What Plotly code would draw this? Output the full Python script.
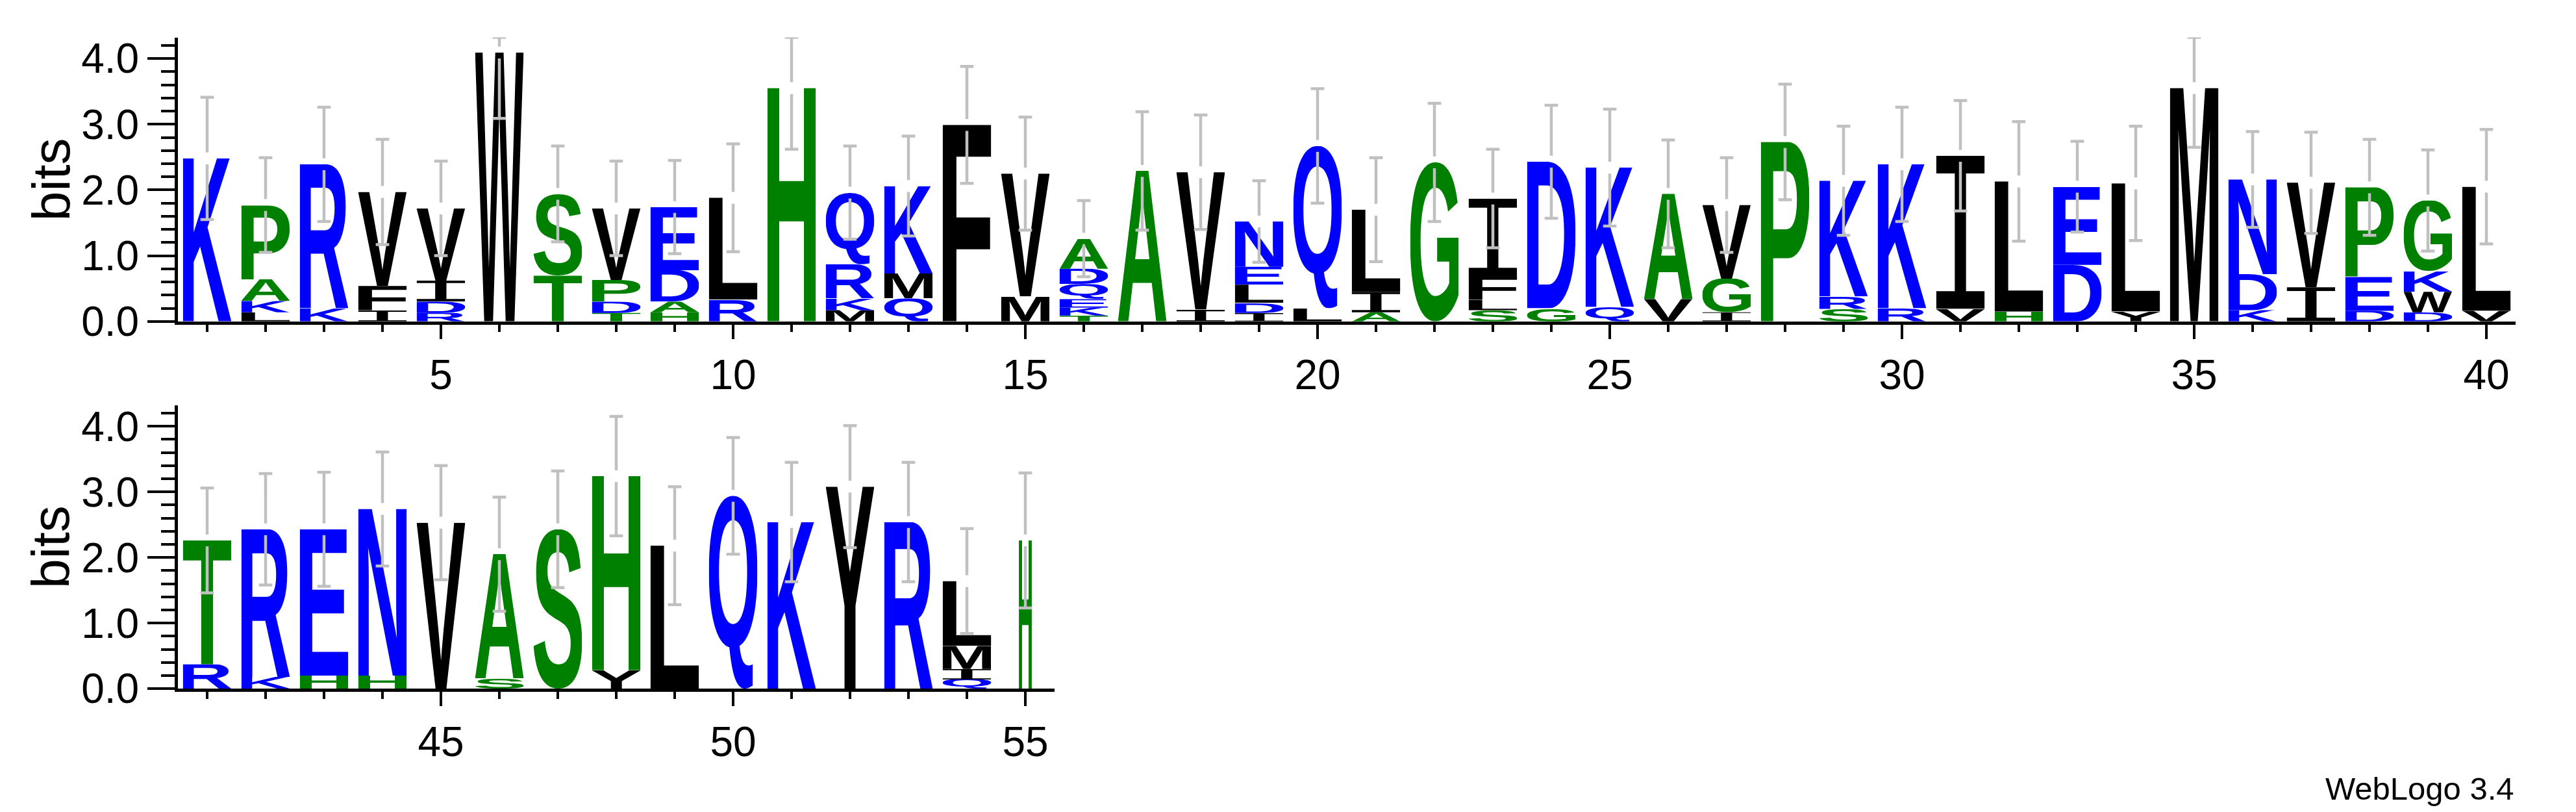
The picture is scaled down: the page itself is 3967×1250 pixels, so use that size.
import base64
import glob
import struct

import plotly.graph_objects as go

positions = list(range(1, 56))

# letters of each stack, bottom -> top
stack_letters = [
    "K", "LKAP", "KR", "IFV", "RDIV", "W", "TS", "TDPV", "HADE", "RL",
    "H", "MKRQ", "QMK", "F", "MV", "TKEQDA", "A", "IV", "IDLEN", "LQ",
    "AIL", "G", "SLFI", "GD", "QK", "VA", "IGV", "P", "SRK", "RK",
    "VI", "HL", "DE", "YL", "M", "KDN", "IV", "DEP", "DWKG", "VL",
    "RT", "KR", "HE", "HN", "V", "SA", "S", "YH", "L", "Q",
    "K", "Y", "R", "QIML", "H",
]

# letter heights in bits, bottom -> top
stack_heights = [
    [2.48], [0.14, 0.17, 0.33, 1.13], [0.20, 2.19], [0.17, 0.37, 1.43],
    [0.13, 0.17, 0.32, 1.10], [4.09], [0.70, 1.24], [0.13, 0.17, 0.33, 1.09],
    [0.14, 0.16, 0.48, 0.96], [0.33, 1.55],
    [3.55], [0.17, 0.18, 0.52, 1.09], [0.35, 0.38, 1.33], [2.99], [0.38, 1.87],
    [0.09, 0.12, 0.13, 0.23, 0.23, 0.46], [2.29], [0.18, 2.09],
    [0.13, 0.15, 0.28, 0.27, 0.69], [0.20, 2.47],
    [0.14, 0.31, 1.25], [2.42], [0.17, 0.16, 0.35, 1.19], [0.20, 2.23],
    [0.22, 2.12], [0.34, 1.60], [0.14, 0.51, 1.12], [2.73], [0.19, 0.19, 1.76],
    [0.20, 2.19],
    [0.19, 2.33], [0.15, 1.98], [0.86, 1.19], [0.15, 1.95], [3.55],
    [0.17, 0.55, 1.44], [0.52, 1.59], [0.16, 0.52, 1.36], [0.14, 0.31, 0.31, 1.08],
    [0.16, 1.89],
    [0.37, 1.89], [0.18, 2.25], [0.20, 2.23], [0.20, 2.54], [2.53], [0.16, 1.89],
    [2.43], [0.28, 2.96], [2.18], [2.94],
    [2.54], [3.08], [2.54], [0.14, 0.16, 0.35, 0.99], [2.26],
]

# half-length of the error bar at each position (bits)
error_bits = [
    0.93, 0.72, 0.87, 0.80, 0.72, 1.00, 0.73, 0.72, 0.71, 0.82,
    0.93, 0.71, 0.76, 0.89, 0.86, 0.58, 0.90, 0.87, 0.62, 0.87,
    0.79, 0.90, 0.75, 0.86, 0.89, 0.82, 0.72, 0.88, 0.83, 0.87,
    0.84, 0.91, 0.69, 0.87, 0.90, 0.73, 0.77, 0.73, 0.77, 0.87,
    0.80, 0.85, 0.87, 0.87, 0.87, 0.87, 0.89, 0.91, 0.90, 0.89,
    0.91, 0.93, 0.91, 0.80, 1.03,
]

y_ticks = [0.0, 1.0, 2.0, 3.0, 4.0]
max_bits = 4.3219  # log2(20)

blue_letters = "KRDEQN"
green_letters = "PASTGH"
COLOR_BLUE = "#0000ff"
COLOR_GREEN = "#008000"
COLOR_BLACK = "#000000"

# ---------------- glyph bounding boxes ----------------
FALLBACK_BBOX = {
    "A": (0.0, 0.0, 0.722, 0.716), "C": (0.04, -0.012, 0.67, 0.728),
    "D": (0.073, 0.0, 0.67, 0.716), "E": (0.073, 0.0, 0.615, 0.716),
    "F": (0.073, 0.0, 0.56, 0.716), "G": (0.044, -0.012, 0.72, 0.728),
    "H": (0.073, 0.0, 0.65, 0.716), "K": (0.073, 0.0, 0.72, 0.716),
    "L": (0.076, 0.0, 0.58, 0.716), "M": (0.071, 0.0, 0.762, 0.716),
    "N": (0.073, 0.0, 0.648, 0.716), "P": (0.073, 0.0, 0.625, 0.716),
    "Q": (0.04, -0.06, 0.75, 0.728), "R": (0.073, 0.0, 0.72, 0.716),
    "S": (0.034, -0.012, 0.625, 0.728), "T": (0.02, 0.0, 0.59, 0.716),
    "V": (0.0, 0.0, 0.667, 0.716), "W": (0.005, 0.0, 0.94, 0.716),
    "Y": (0.0, 0.0, 0.667, 0.716), "I": (0.1, 0.0, 0.5, 0.66),
}


def parse_ttf_bboxes(fn, chars):
    data = open(fn, "rb").read()
    num_tables = struct.unpack(">H", data[4:6])[0]
    tables = {}
    for i in range(num_tables):
        tag, _cs, off, ln = struct.unpack(">4sIII", data[12 + 16 * i:28 + 16 * i])
        tables[tag.decode("latin1")] = (off, ln)
    ho = tables["head"][0]
    upm = struct.unpack(">H", data[ho + 18:ho + 20])[0]
    locfmt = struct.unpack(">h", data[ho + 50:ho + 52])[0]
    co = tables["cmap"][0]
    nsub = struct.unpack(">H", data[co + 2:co + 4])[0]
    sub = None
    for i in range(nsub):
        pid, _eid, off = struct.unpack(">HHI", data[co + 4 + 8 * i:co + 12 + 8 * i])
        fmt = struct.unpack(">H", data[co + off:co + off + 2])[0]
        if fmt == 4 and pid in (0, 3):
            sub = co + off
            break
    seg2 = struct.unpack(">H", data[sub + 6:sub + 8])[0]
    seg = seg2 // 2
    ends = struct.unpack(">%dH" % seg, data[sub + 14:sub + 14 + seg2])
    starts = struct.unpack(">%dH" % seg, data[sub + 16 + seg2:sub + 16 + 2 * seg2])
    deltas = struct.unpack(">%dh" % seg, data[sub + 16 + 2 * seg2:sub + 16 + 3 * seg2])
    rpos = sub + 16 + 3 * seg2
    roffs = struct.unpack(">%dH" % seg, data[rpos:rpos + seg2])

    def gid(ch):
        c = ord(ch)
        for i in range(seg):
            if starts[i] <= c <= ends[i]:
                if roffs[i] == 0:
                    return (c + deltas[i]) & 0xFFFF
                addr = rpos + 2 * i + roffs[i] + 2 * (c - starts[i])
                g = struct.unpack(">H", data[addr:addr + 2])[0]
                return (g + deltas[i]) & 0xFFFF if g else 0
        return 0

    lo = tables["loca"][0]
    gl = tables["glyf"][0]
    out = {}
    for ch in chars:
        g = gid(ch)
        if locfmt == 0:
            a = struct.unpack(">H", data[lo + 2 * g:lo + 2 * g + 2])[0] * 2
        else:
            a = struct.unpack(">I", data[lo + 4 * g:lo + 4 * g + 4])[0]
        _nc, xmin, ymin, xmax, ymax = struct.unpack(">hhhhh", data[gl + a:gl + a + 10])
        out[ch] = (xmin / upm, ymin / upm, xmax / upm, ymax / upm)
    return out


def find_bboxes(pattern, chars):
    for f in glob.glob("/usr/share/fonts/**/" + pattern, recursive=True) + \
            glob.glob("/usr/local/share/fonts/**/" + pattern, recursive=True):
        try:
            return parse_ttf_bboxes(f, chars)
        except Exception:
            pass
    return {}


all_chars = sorted(set("".join(stack_letters)))
sans_chars = [c for c in all_chars if c != "I"]
BBOX = dict(FALLBACK_BBOX)
BBOX.update(find_bboxes("LiberationSans-Bold.ttf", sans_chars))
BBOX.update(find_bboxes("LiberationMono-Regular.ttf", ["I"]))


def letter_color(ch):
    if ch in blue_letters:
        return COLOR_BLUE
    if ch in green_letters:
        return COLOR_GREEN
    return COLOR_BLACK


def glyph_uri(ch):
    xmin, ymin, xmax, ymax = BBOX[ch]
    S = 1000.0
    if ch == "I":
        fam, weight = "Liberation Mono", "normal"
    else:
        fam, weight = "Liberation Sans", "bold"
    w = (xmax - xmin) * S
    h = (ymax - ymin) * S
    svg = (
        f'<svg xmlns="http://www.w3.org/2000/svg" width="{w:.1f}" height="{h:.1f}" '
        f'viewBox="{xmin * S:.1f} {-ymax * S:.1f} {w:.1f} {h:.1f}" preserveAspectRatio="none">'
        f'<text x="0" y="0" font-family="{fam}" font-weight="{weight}" font-size="{S:.0f}" '
        f'fill="{letter_color(ch)}">{ch}</text></svg>'
    )
    return "data:image/svg+xml;base64," + base64.b64encode(svg.encode()).decode()


URIS = {c: glyph_uri(c) for c in all_chars}

# ---------------- figure ----------------
W, H = 3967, 1250
LETTER_W = 0.83
NARROW_COLUMNS = {55: 0.22}   # the last column is drawn squeezed in the reference
GAP = 0.09
CAP = 0.115

x_left = 266 / W
top_dom_y = [1 - 500 / H, 1 - 49 / H]
bot_dom_y = [1 - 1083 / H, 1 - 633 / H]

fig = go.Figure()
images = []
bars = {"top": ([], []), "bot": ([], [])}
for i, pos in enumerate(positions):
    panel = "top" if pos <= 40 else "bot"
    xref, yref = ("x", "y") if panel == "top" else ("x2", "y2")
    lw = NARROW_COLUMNS.get(pos, LETTER_W)
    base = 0.0
    for ch, hgt in zip(stack_letters[i], stack_heights[i]):
        images.append(dict(
            source=URIS[ch], xref=xref, yref=yref,
            x=pos - lw / 2, y=base + hgt, sizex=lw, sizey=hgt,
            xanchor="left", yanchor="top", sizing="stretch", layer="below",
        ))
        base += hgt
    top = base
    lo = top - error_bits[i]
    hi = min(top + error_bits[i], max_bits)
    xs, ys = bars[panel]
    xs += [pos, pos, None, pos, pos, None,
           pos - CAP, pos + CAP, None, pos - CAP, pos + CAP, None]
    ys += [lo, top - GAP, None, top + GAP, hi, None,
           lo, lo, None, hi, hi, None]

for panel, (xa, ya) in (("top", ("x", "y")), ("bot", ("x2", "y2"))):
    xs, ys = bars[panel]
    fig.add_trace(go.Scatter(
        x=xs, y=ys, xaxis=xa, yaxis=ya, mode="lines",
        line=dict(color="#c0c0c0", width=4.5), hoverinfo="skip", showlegend=False,
    ))

FONT = "Liberation Sans, Arial, Helvetica, sans-serif"
tickfont = dict(family=FONT, size=64, color="black")

xcommon = dict(
    showgrid=False, zeroline=False, showline=True, linecolor="black", linewidth=5,
    ticks="outside", ticklen=22, tickwidth=4, tickcolor="black",
    tickmode="linear", tick0=0, dtick=5, tickfont=tickfont,
    minor=dict(ticks="outside", tickmode="linear", tick0=0, dtick=1,
               ticklen=11, tickwidth=4, tickcolor="black"),
    fixedrange=True,
)
ycommon = dict(
    showgrid=False, zeroline=False, showline=True, linecolor="black", linewidth=5,
    ticks="outside", ticklen=42, tickwidth=4, tickcolor="black",
    tickmode="array", tickvals=y_ticks, ticktext=[f"{v:.1f}" for v in y_ticks],
    tickfont=tickfont, range=[0, max_bits],
    minor=dict(ticks="outside", tickmode="linear", tick0=0, dtick=0.2,
               ticklen=21, tickwidth=4, tickcolor="black"),
    fixedrange=True,
)

fig.update_layout(
    width=W, height=H, autosize=False,
    margin=dict(l=0, r=0, t=0, b=0),
    paper_bgcolor="white", plot_bgcolor="white",
    showlegend=False,
    xaxis=dict(xcommon, domain=[x_left, 3866 / W], range=[0.5, 40.5], anchor="y"),
    yaxis=dict(ycommon, domain=top_dom_y, anchor="x"),
    xaxis2=dict(xcommon, domain=[x_left, 1616 / W], range=[40.5, 55.5], anchor="y2"),
    yaxis2=dict(ycommon, domain=bot_dom_y, anchor="x2"),
    images=images,
    annotations=[
        dict(text="bits", xref="paper", yref="paper", x=70 / W,
             y=(top_dom_y[0] + top_dom_y[1]) / 2, textangle=-90, showarrow=False,
             xanchor="center", yanchor="middle", font=dict(family=FONT, size=82, color="black")),
        dict(text="bits", xref="paper", yref="paper", x=70 / W,
             y=(bot_dom_y[0] + bot_dom_y[1]) / 2, textangle=-90, showarrow=False,
             xanchor="center", yanchor="middle", font=dict(family=FONT, size=82, color="black")),
        dict(text="WebLogo 3.4", xref="paper", yref="paper", x=3866 / W, y=-22 / H,
             xanchor="right", yanchor="bottom", showarrow=False,
             font=dict(family=FONT, size=49, color="black")),
    ],
)

fig.write_html("out.html")
